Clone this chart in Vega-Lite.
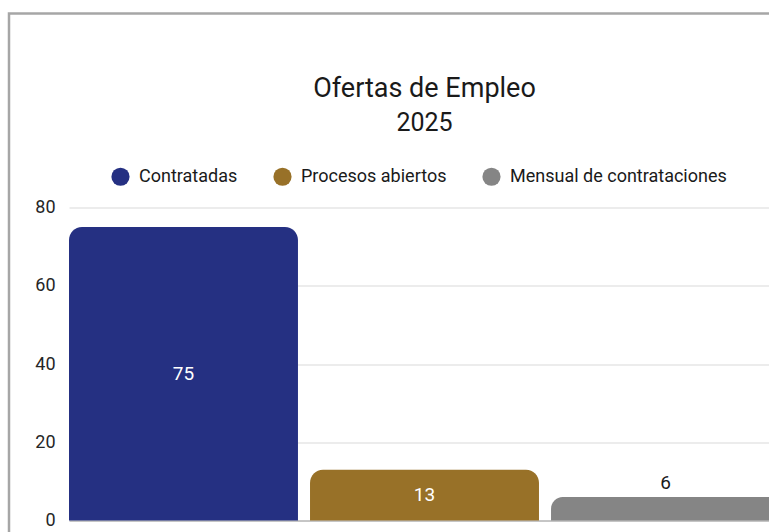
{
  "$schema": "https://vega.github.io/schema/vega-lite/v6.json",
  "width": 780,
  "height": 540,
  "autosize": {"type": "none"},
  "padding": {"left": 9, "top": 13.5, "right": -20, "bottom": -21.5},
  "background": "white",
  "config": {"view": {"stroke": "#a6a6a6", "strokeWidth": 2.5}, "font": "Roboto"},
  "title": {
    "text": "Ofertas de Empleo",
    "subtitle": "2025",
    "anchor": "middle",
    "frame": "group",
    "offset": -123,
    "dx": 25.5,
    "fontSize": 27,
    "fontWeight": "normal",
    "color": "#1a1a1a",
    "font": "Roboto",
    "subtitleFont": "Roboto",
    "subtitleFontSize": 25,
    "subtitleColor": "#1a1a1a",
    "subtitlePadding": 8
  },
  "data": {
    "values": [
      {"categoria": "Contratadas", "valor": 75},
      {"categoria": "Procesos abiertos", "valor": 13},
      {"categoria": "Mensual de contrataciones", "valor": 6}
    ]
  },
  "encoding": {
    "x": {
      "field": "categoria",
      "type": "nominal",
      "sort": null,
      "axis": null,
      "scale": {"range": [60, 771], "paddingInner": 0.05, "paddingOuter": 0}
    }
  },
  "layer": [
    {
      "mark": {"type": "bar", "cornerRadiusTopLeft": 13, "cornerRadiusTopRight": 13},
      "encoding": {
        "y": {
          "field": "valor",
          "type": "quantitative",
          "stack": null,
          "scale": {"domain": [0, 80], "range": [507, 194], "nice": false},
          "axis": {
            "orient": "left",
            "offset": -60,
            "values": [0, 20, 40, 60, 80],
            "domain": false,
            "ticks": false,
            "tickSize": 0,
            "labelPadding": 14,
            "labelFontSize": 18,
            "labelFont": "Roboto",
            "labelColor": "#262626",
            "title": null,
            "gridColor": {"condition": {"test": "datum.value === 0", "value": "#8c8c8c"}, "value": "#d9d9d9"},
            "gridWidth": 1
          }
        },
        "color": {
          "field": "categoria",
          "type": "nominal",
          "scale": {
            "domain": ["Contratadas", "Procesos abiertos", "Mensual de contrataciones"],
            "range": ["#253082", "#987128", "#858585"]
          },
          "legend": {
            "title": null,
            "orient": "none",
            "direction": "horizontal",
            "columns": 3,
            "legendX": 102,
            "legendY": 153.5,
            "symbolType": "circle",
            "symbolSize": 330,
            "symbolStrokeWidth": 0,
            "labelFont": "Roboto",
            "labelFontSize": 18,
            "labelColor": "#1a1a1a",
            "labelOffset": 9,
            "labelLimit": 400,
            "columnPadding": 35
          }
        }
      }
    },
    {
      "transform": [{"filter": "datum.valor >= 10"}],
      "mark": {"type": "text", "color": "white", "fontSize": 19, "font": "Roboto"},
      "encoding": {
        "y": {"field": "valor", "type": "quantitative", "stack": "zero", "bandPosition": 0.5},
        "text": {"field": "valor"}
      }
    },
    {
      "transform": [{"filter": "datum.valor < 10"}],
      "mark": {"type": "text", "baseline": "bottom", "dy": -4, "color": "#1a1a1a", "fontSize": 19, "font": "Roboto"},
      "encoding": {
        "y": {"field": "valor", "type": "quantitative"},
        "text": {"field": "valor"}
      }
    }
  ]
}
